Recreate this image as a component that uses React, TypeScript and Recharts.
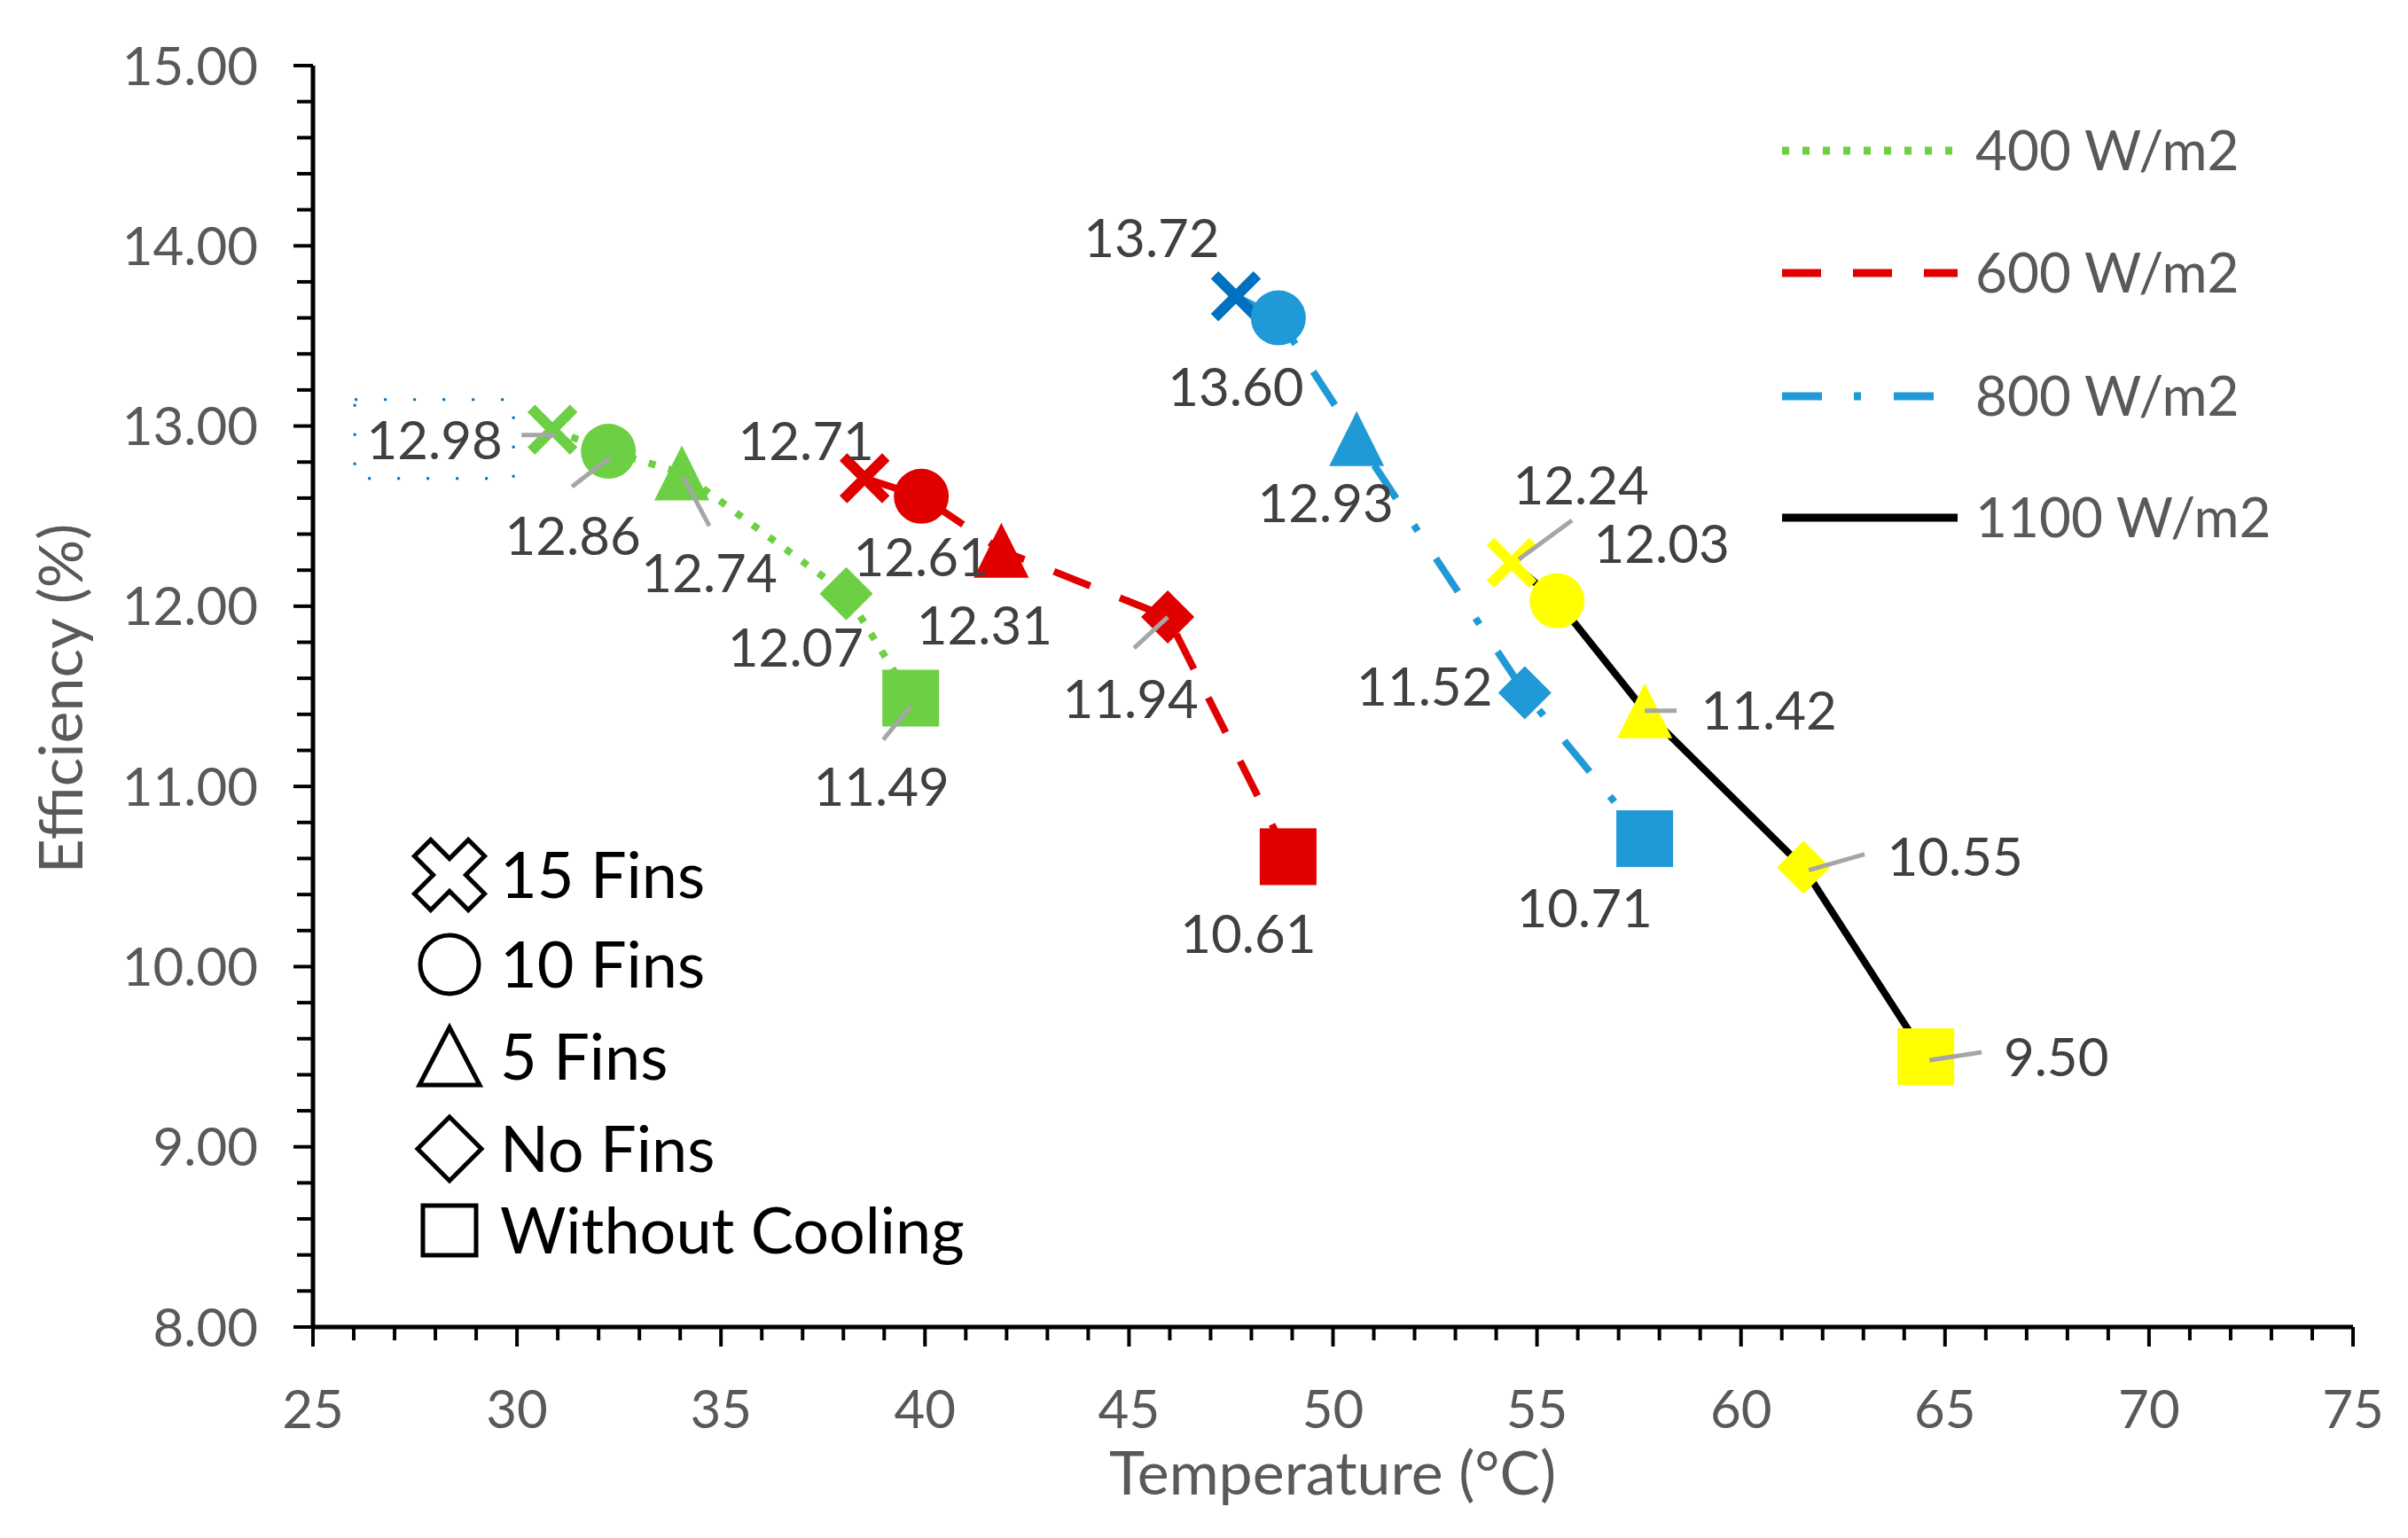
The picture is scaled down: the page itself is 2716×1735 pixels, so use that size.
import { Customized, Scatter, ScatterChart, XAxis, YAxis } from "recharts";

// shape order inside every series
const finTypes = ["15 Fins", "10 Fins", "5 Fins", "No Fins", "Without Cooling"];

const temp400 = [30.87, 32.24, 34.04, 38.07, 39.65];
const eff400 = [12.98, 12.86, 12.74, 12.07, 11.49];
const temp600 = [38.52, 39.91, 41.87, 45.95, 48.9];
const eff600 = [12.71, 12.61, 12.31, 11.94, 10.61];
const temp800 = [47.62, 48.66, 50.58, 54.7, 57.64];
const eff800 = [13.72, 13.6, 12.93, 11.52, 10.71];
const temp1100 = [54.38, 55.49, 57.64, 61.53, 64.53];
const eff1100 = [12.24, 12.03, 11.42, 10.55, 9.5];

const seriesNames = ["400 W/m2", "600 W/m2", "800 W/m2", "1100 W/m2"];

const xMajor = [25, 30, 35, 40, 45, 50, 55, 60, 65, 70, 75];
const yMajor = [8, 9, 10, 11, 12, 13, 14, 15];

// minor ticks: 1 °C on x, 0.2 % on y
const xTicks: number[] = [];
for (let v = 25; v <= 75; v++) xTicks.push(v);
const yTicks: number[] = [];
for (let i = 0; i <= 35; i++) yTicks.push(Math.round((8 + i * 0.2) * 10) / 10);

const rows = (temps: number[], effs: number[], series: number) =>
  temps.map((t, i) => ({ temp: t, eff: effs[i], kind: i, series }));

const data400 = rows(temp400, eff400, 0);
const data600 = rows(temp600, eff600, 1);
const data800 = rows(temp800, eff800, 2);
const data1100 = rows(temp1100, eff1100, 3);

// styles
const styles = [
  { fill: "#6ccf44", xFill: "#6ccf44", line: "#6ccf44", dash: "8 15" },
  { fill: "#e00000", xFill: "#e00000", line: "#e00000", dash: "44 36" },
  { fill: "#1f9ad6", xFill: "#0070c0", line: "#1f9ad6", dash: "45 36 8 37" },
  { fill: "#ffff00", xFill: "#ffff00", line: "#000000", dash: undefined },
];

type Lay = { dx: number; dy: number; leader?: number[]; box?: number[] };

// label placement per series / point (px offsets from the marker centre)
const labelLayout: Lay[][] = [
  [
    { dx: -133, dy: 12, leader: [-35, 6, 4, 6], box: [-223, -34, 179, 89] },
    { dx: -40, dy: 95, leader: [-41, 40, 2, 7] },
    { dx: 31, dy: 113, leader: [2, 5, 31, 60] },
    { dx: -57, dy: 61 },
    { dx: -33, dy: 100, leader: [-31, 47, 0, 9] },
  ],
  [
    { dx: -66, dy: -42 },
    { dx: 0, dy: 69 },
    { dx: -19, dy: 85 },
    { dx: -42, dy: 92, leader: [-38, 35, 0, 0] },
    { dx: -45, dy: 87 },
  ],
  [
    { dx: -95, dy: -66 },
    { dx: -48, dy: 78 },
    { dx: -35, dy: 73 },
    { dx: -113, dy: -7 },
    { dx: -68, dy: 78 },
  ],
  [
    { dx: 78, dy: -88, leader: [8, -4, 68, -48] },
    { dx: 118, dy: -64 },
    { dx: 140, dy: 0, leader: [0, 0, 36, 0] },
    { dx: 171, dy: -12, leader: [6, 3, 69, -15] },
    { dx: 147, dy: 0, leader: [4, 4, 63, -5] },
  ],
];

const FONT = "Lato, 'Open Sans', sans-serif";

function xOutline(cx: number, cy: number, a: number, L: number) {
  const pts = [
    [a, -L], [a, -a], [L, -a], [L, a], [a, a], [a, L],
    [-a, L], [-a, a], [-L, a], [-L, -a], [-a, -a], [-a, -L],
  ];
  const c = Math.SQRT1_2;
  return pts
    .map(([x, y]) => `${cx + (x - y) * c},${cy + (x + y) * c}`)
    .join(" ");
}

function Marker(props: any) {
  const { cx, cy, payload } = props;
  if (cx == null || cy == null) return null;
  const st = styles[payload.series];
  switch (payload.kind) {
    case 0:
      return (
        <path
          d={`M${cx - 24},${cy - 24}L${cx + 24},${cy + 24}M${cx + 24},${cy - 24}L${cx - 24},${cy + 24}`}
          stroke={st.xFill}
          strokeWidth={12}
        />
      );
    case 1:
      return <circle cx={cx} cy={cy} r={31} fill={st.fill} />;
    case 2:
      return (
        <polygon
          points={`${cx},${cy - 31} ${cx + 31},${cy + 31} ${cx - 31},${cy + 31}`}
          fill={st.fill}
        />
      );
    case 3:
      return (
        <polygon
          points={`${cx},${cy - 30} ${cx + 30},${cy} ${cx},${cy + 30} ${cx - 30},${cy}`}
          fill={st.fill}
        />
      );
    default:
      return <rect x={cx - 32} y={cy - 32} width={64} height={64} fill={st.fill} />;
  }
}

function PointLabel(props: any) {
  const { cx, cy, payload } = props;
  if (cx == null || cy == null) return null;
  const lay = labelLayout[payload.series][payload.kind];
  const ld = lay.leader;
  const bx = lay.box;
  return (
    <g>
      {ld && (
        <line
          x1={cx + ld[0]}
          y1={cy + ld[1]}
          x2={cx + ld[2]}
          y2={cy + ld[3]}
          stroke="#a6a6a6"
          strokeWidth={5}
        />
      )}
      {bx && (
        <rect
          x={cx + bx[0]}
          y={cy + bx[1]}
          width={bx[2]}
          height={bx[3]}
          fill="none"
          stroke="#0070c0"
          strokeWidth={3}
          strokeDasharray="3 30"
        />
      )}
      <text
        x={cx + lay.dx}
        y={cy + lay.dy}
        dy="0.36em"
        textAnchor="middle"
        fontSize={60}
        fontFamily={FONT}
        fill="#404040"
      >
        {payload.eff.toFixed(2)}
      </text>
    </g>
  );
}

function XTick(props: any) {
  const { x, y, payload } = props;
  const major = xMajor.includes(payload.value);
  return (
    <g>
      <line x1={x} y1={y} x2={x} y2={y + (major ? 22 : 15)} stroke="#000" strokeWidth={4} />
      {major && (
        <text x={x} y={y + 92} dy="0.36em" textAnchor="middle" fontSize={60} fontFamily={FONT} fill="#595959">
          {payload.value}
        </text>
      )}
    </g>
  );
}

function YTick(props: any) {
  const { x, y, payload } = props;
  const major = yMajor.some((m) => Math.abs(m - payload.value) < 1e-6);
  return (
    <g>
      <line x1={x - (major ? 22 : 18)} y1={y} x2={x} y2={y} stroke="#000" strokeWidth={4} />
      {major && (
        <text x={x - 62} y={y} dy="0.36em" textAnchor="end" fontSize={60} fontFamily={FONT} fill="#595959">
          {payload.value.toFixed(2)}
        </text>
      )}
    </g>
  );
}

function LegendShape({ kind, cx, cy }: { kind: number; cx: number; cy: number }) {
  const common = { fill: "#fff", stroke: "#000", strokeWidth: 5 };
  switch (kind) {
    case 0:
      return <polygon points={xOutline(cx, cy, 13, 43)} {...common} />;
    case 1:
      return <circle cx={cx} cy={cy} r={33} {...common} />;
    case 2:
      return <polygon points={`${cx},${cy - 33} ${cx + 34},${cy + 32} ${cx - 34},${cy + 32}`} {...common} />;
    case 3:
      return <polygon points={`${cx},${cy - 36} ${cx + 36},${cy} ${cx},${cy + 36} ${cx - 36},${cy}`} {...common} />;
    default:
      return <rect x={cx - 30} y={cy - 28} width={60} height={56} {...common} />;
  }
}

const lineLegendRows = [170, 308, 447, 584];
const shapeLegendRows = [987, 1088, 1192, 1296, 1388];

function Overlay() {
  return (
    <g>
      {seriesNames.map((name, i) => (
        <g key={name}>
          <line
            x1={2010}
            x2={2208}
            y1={lineLegendRows[i]}
            y2={lineLegendRows[i]}
            stroke={styles[i].line}
            strokeWidth={9}
            strokeDasharray={styles[i].dash}
          />
          <text x={2228} y={lineLegendRows[i]} dy="0.36em" fontSize={62} fontFamily={FONT} fill="#595959">
            {name}
          </text>
        </g>
      ))}
      {finTypes.map((name, i) => (
        <g key={name}>
          <LegendShape kind={i} cx={507} cy={shapeLegendRows[i]} />
          <text x={564} y={shapeLegendRows[i]} dy="0.36em" fontSize={72} fontFamily={FONT} fill="#000">
            {name}
          </text>
        </g>
      ))}
      <text
        x={69}
        y={788}
        dy="0.36em"
        transform="rotate(-90 69 788)"
        textAnchor="middle"
        fontSize={68}
        fontFamily={FONT}
        fill="#595959"
      >
        Efficiency (%)
      </text>
      <text x={1503} y={1662} dy="0.36em" textAnchor="middle" fontSize={68} fontFamily={FONT} fill="#595959">
        Temperature (°C)
      </text>
    </g>
  );
}

const allSeries = [data400, data600, data800, data1100];

export default function App() {
  return (
    <div style={{ position: "absolute", left: 0, top: 0, background: "#fff", fontFamily: FONT }}>
      <ScatterChart width={2716} height={1735} margin={{ top: 74, right: 62, bottom: 0, left: 0 }}>
        <XAxis
          type="number"
          dataKey="temp"
          domain={[25, 75]}
          ticks={xTicks}
          interval={0}
          tickSize={0}
          tickMargin={0}
          tickLine={false}
          tick={<XTick />}
          axisLine={{ stroke: "#000", strokeWidth: 5 }}
          height={238}
          allowDataOverflow
        />
        <YAxis
          type="number"
          dataKey="eff"
          domain={[8, 15]}
          ticks={yTicks}
          interval={0}
          tickSize={0}
          tickMargin={0}
          tickLine={false}
          tick={<YTick />}
          axisLine={{ stroke: "#000", strokeWidth: 5 }}
          width={353}
          allowDataOverflow
        />
        {allSeries.map((d, i) => (
          <Scatter
            key={seriesNames[i]}
            name={seriesNames[i]}
            data={d}
            fill={styles[i].fill}
            line={{ stroke: styles[i].line, strokeWidth: 8, strokeDasharray: styles[i].dash }}
            lineType="joint"
            shape={<Marker />}
            isAnimationActive={false}
          />
        ))}
        {allSeries.map((d, i) => (
          <Scatter
            key={`lbl-${seriesNames[i]}`}
            data={d}
            fill="none"
            shape={<PointLabel />}
            isAnimationActive={false}
          />
        ))}
        <Customized component={<Overlay />} />
      </ScatterChart>
    </div>
  );
}
